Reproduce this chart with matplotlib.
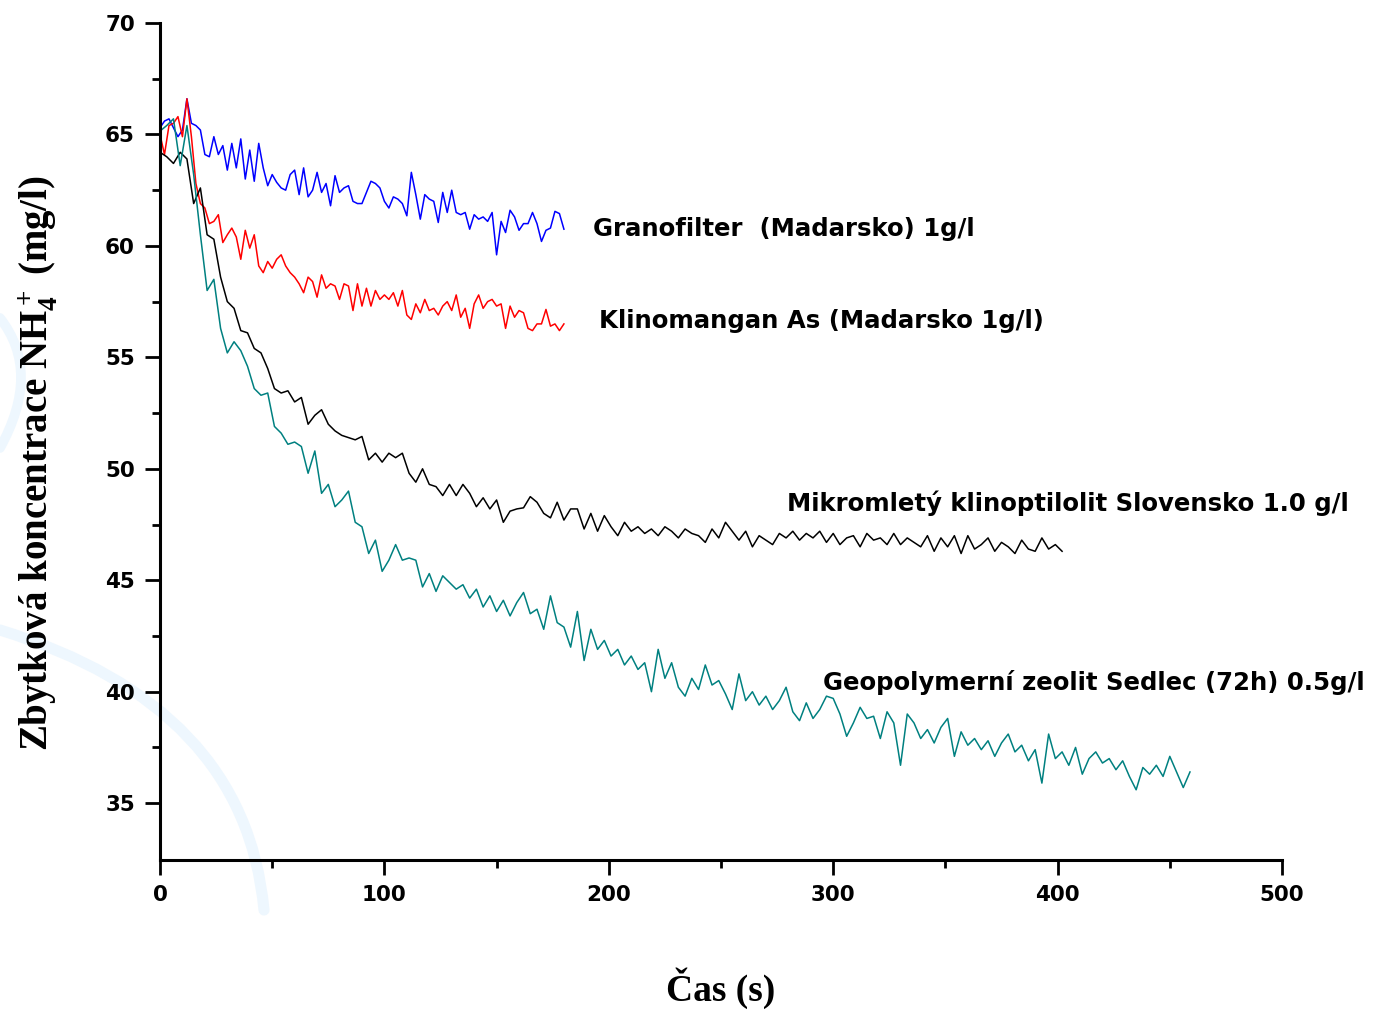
import numpy as np
import matplotlib
matplotlib.use('Agg')
import matplotlib.pyplot as plt
from matplotlib.path import Path
from matplotlib.patches import PathPatch

plt.rcParams['mathtext.fontset'] = 'custom'
plt.rcParams['mathtext.rm'] = 'Liberation Serif:bold'
plt.rcParams['mathtext.it'] = 'Liberation Serif:bold'
plt.rcParams['mathtext.bf'] = 'Liberation Serif:bold'

# residual NH4+ concentration (mg/l), blue/red sampled every 2 s, black/teal every 3 s
granofilter = [65.3, 65.6, 65.7, 65.3, 64.9, 65.2, 66.6, 65.5, 65.4, 65.2,
               64.1, 64.0, 64.9, 64.1, 64.5, 63.4, 64.6, 63.5, 64.8, 63.0,
               64.3, 62.9, 64.6, 63.5, 62.7, 63.2, 62.85, 62.6, 62.5, 63.2,
               63.4, 62.3, 63.5, 62.2, 62.5, 63.3, 62.4, 62.8, 61.8, 63.15,
               62.4, 62.6, 62.7, 62.0, 61.9, 61.9, 62.4, 62.9, 62.8, 62.6,
               62.0, 61.7, 62.2, 62.1, 61.9, 61.35, 63.3, 62.3, 61.2, 62.3,
               62.1, 62.0, 61.05, 62.4, 61.5, 62.5, 61.5, 61.4, 61.5, 60.75,
               61.4, 61.2, 61.3, 61.1, 61.5, 59.6, 61.1, 60.6, 61.6, 61.3,
               60.7, 61.0, 61.0, 61.5, 61.0, 60.2, 60.7, 60.8, 61.55, 61.45,
               60.75]
klinomangan = [65.0, 64.1, 65.4, 65.5, 65.8, 64.9, 66.6, 64.9, 62.8, 61.9,
               61.7, 61.0, 61.1, 61.4, 60.15, 60.5, 60.8, 60.4, 59.4, 60.7,
               59.9, 60.5, 59.1, 58.8, 59.3, 59.0, 59.4, 59.6, 59.1, 58.8,
               58.6, 58.3, 57.9, 58.6, 58.4, 57.7, 58.7, 58.1, 58.3, 58.2,
               57.6, 58.3, 58.2, 57.1, 58.3, 57.3, 58.1, 57.3, 58.0, 57.6,
               57.8, 57.6, 57.9, 57.3, 58.0, 56.9, 56.7, 57.4, 57.0, 57.6,
               57.1, 57.2, 56.9, 57.3, 57.5, 57.1, 57.8, 56.8, 57.2, 56.3,
               57.4, 57.8, 57.2, 57.5, 57.6, 57.3, 57.4, 56.3, 57.3, 56.8,
               57.1, 57.0, 56.3, 56.2, 56.5, 56.5, 57.15, 56.4, 56.5, 56.2,
               56.5]
mikromlety = [64.2, 64.0, 63.7, 64.2, 63.9, 61.9, 62.6, 60.5, 60.3, 58.6,
              57.5, 57.2, 56.2, 56.1, 55.4, 55.2, 54.5, 53.6, 53.4, 53.5,
              53.0, 53.2, 52.0, 52.4, 52.65, 52.0, 51.7, 51.5, 51.4, 51.3,
              51.45, 50.4, 50.7, 50.3, 50.7, 50.5, 50.7, 49.8, 49.4, 50.0,
              49.3, 49.2, 48.8, 49.3, 48.8, 49.3, 48.9, 48.3, 48.7, 48.2,
              48.6, 47.6, 48.1, 48.2, 48.25, 48.75, 48.5, 48.0, 47.8, 48.5,
              47.7, 48.2, 48.2, 47.3, 48.0,
              47.2, 47.9, 47.4, 47.0, 47.6, 47.2, 47.4, 47.1, 47.3, 47.0,
              47.4, 47.2, 46.9, 47.3, 47.1, 47.0, 46.7, 47.3, 46.9, 47.6,
              47.2, 46.8, 47.2, 46.5, 47.0, 46.8, 46.6, 47.1, 46.9, 47.2,
              46.8, 47.1, 46.9, 47.2, 46.7, 47.1, 46.6, 46.9, 47.0, 46.5,
              47.1, 46.8, 46.9, 46.6, 47.1, 46.6, 46.9, 46.7, 46.5, 47.0,
              46.3, 46.9, 46.5, 47.0, 46.2, 47.0, 46.4, 46.6, 46.9, 46.3,
              46.7, 46.5, 46.2, 46.8, 46.4, 46.3, 46.9, 46.4, 46.6, 46.3]
geopolymer = [65.15, 65.4, 65.7, 63.6, 65.4, 63.2, 60.5, 58.0, 58.5, 56.3,
              55.2, 55.7, 55.3, 54.6, 53.6, 53.3, 53.4, 51.9, 51.6, 51.1,
              51.2, 51.0, 49.8, 50.8, 48.9, 49.3, 48.3, 48.6, 49.0, 47.6,
              47.4, 46.2, 46.8, 45.4, 45.9, 46.6, 45.9, 46.0, 45.9, 44.7,
              45.3, 44.5, 45.2, 44.9, 44.6, 44.8, 44.2,
              44.6, 43.8, 44.3, 43.6, 44.1, 43.4, 44.0, 44.45, 43.5, 43.7,
              42.8, 44.3, 43.1, 42.9, 42.0, 43.6, 41.4, 42.8, 41.9, 42.3,
              41.6, 41.9, 41.2, 41.6, 41.0, 41.3, 40.0, 41.9, 40.6, 41.3,
              40.2, 39.8, 40.6, 40.1, 41.2, 40.3, 40.5, 39.9, 39.2, 40.8,
              39.6, 40.0, 39.4, 39.8, 39.2, 39.6, 40.2, 39.1, 38.7, 39.5,
              38.8, 39.2, 39.8, 39.7, 39.0, 38.0, 38.6, 39.3, 38.8, 38.9,
              37.9, 39.1, 38.6, 36.7, 39.0, 38.6, 37.9, 38.3, 37.7, 38.4,
              38.8, 37.1, 38.2, 37.6, 37.9, 37.4, 37.8, 37.1, 37.7, 38.1,
              37.3, 37.6, 36.9, 37.4, 35.9, 38.1, 37.0, 37.3, 36.7, 37.5,
              36.3, 37.0, 37.3, 36.8, 37.0, 36.5, 36.9, 36.2, 35.6, 36.6,
              36.3, 36.7, 36.2, 37.1, 36.4, 35.7, 36.4]

t_gran = np.arange(len(granofilter)) * 2.0
t_klin = np.arange(len(klinomangan)) * 2.0
t_mikr = np.arange(len(mikromlety)) * 3.0
t_geo = np.arange(len(geopolymer)) * 3.0

labels = ["Granofilter  (Madarsko) 1g/l",
          "Klinomangan As (Madarsko 1g/l)",
          "Mikromletý klinoptilolit Slovensko 1.0 g/l",
          "Geopolymerní zeolit Sedlec (72h) 0.5g/l"]
label_pos = [(193, 60.75), (195.5, 56.65), (279.5, 48.45), (295.5, 40.4)]

fig = plt.figure(figsize=(13.81, 10.10), dpi=100)

# faint light-blue watermark swooshes behind everything
def px(x, y):
    return (x / 1381, 1 - y / 1010)

for pts, lw in [([(0, 630), (245, 705), (264, 910)], 8),
                ([(0, 318), (42, 372), (0, 448)], 7)]:
    path = Path([px(*p) for p in pts], [Path.MOVETO, Path.CURVE3, Path.CURVE3])
    fig.patches.append(PathPatch(path, transform=fig.transFigure, fill=False,
                                 edgecolor='#eef7fe', lw=lw, zorder=-5,
                                 capstyle='round'))

ax = fig.add_axes([160 / 1381, 1 - 860 / 1010, 1122 / 1381, 837 / 1010])
ax.patch.set_alpha(0)

ax.plot(t_gran, granofilter, color='#0000ff', lw=1.1)
ax.plot(t_klin, klinomangan, color='#ff0000', lw=1.1)
ax.plot(t_mikr, mikromlety, color='black', lw=1.1)
ax.plot(t_geo, geopolymer, color='#008080', lw=1.1)

for txt, (x, y) in zip(labels, label_pos):
    ax.text(x, y, txt, fontsize=17.6, fontweight='bold', family='DejaVu Sans',
            ha='left', va='center', clip_on=False)

ax.set_xlim(0, 500)
ax.set_ylim(32.45, 70)
ax.set_xticks([0, 100, 200, 300, 400, 500])
ax.set_xticks(np.arange(50, 500, 100), minor=True)
ax.set_yticks([35, 40, 45, 50, 55, 60, 65, 70])
ax.set_yticks(np.arange(37.5, 70, 5), minor=True)

for s in ['top', 'right']:
    ax.spines[s].set_visible(False)
for s in ['left', 'bottom']:
    ax.spines[s].set_linewidth(2.2)

ax.tick_params(which='major', direction='out', length=11, width=2, pad=7,
               labelsize=15.5)
ax.tick_params(which='minor', direction='out', length=6, width=2)
for lab in ax.get_xticklabels() + ax.get_yticklabels():
    lab.set_fontweight('bold')

ax.set_xlabel('Čas (s)', family='Liberation Serif', fontweight='bold',
              fontsize=27)
ax.xaxis.set_label_coords(0.5, -0.128)
ax.set_ylabel(r'Zbytková koncentrace NH$_4^+$ (mg/l)', family='Liberation Serif',
              fontweight='bold', fontsize=28)
ax.yaxis.set_label_coords(-0.089, 0.474)

fig.savefig('out.png', dpi=100)
